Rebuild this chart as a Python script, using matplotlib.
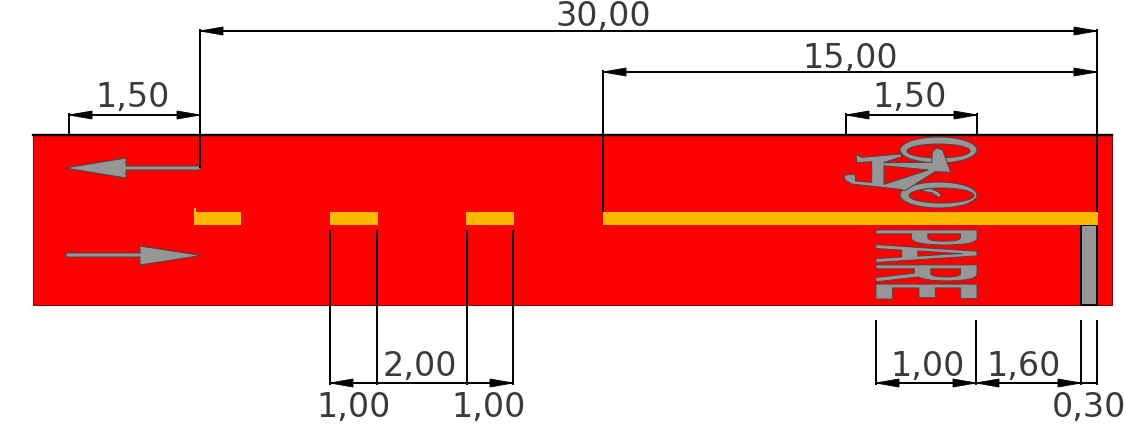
import matplotlib
matplotlib.use("Agg")
import matplotlib.pyplot as plt
from matplotlib.patches import Rectangle, Polygon, Ellipse, PathPatch
from matplotlib.path import Path
from matplotlib.text import Text, TextPath
from matplotlib.font_manager import FontProperties
from matplotlib.transforms import Affine2D, Bbox

RED, YEL, GRY, DRK = "#FF0000", "#FFB900", "#969696", "#444444"

# Road layout (drawing units)
road = (33, 135, 1112, 305)
dashes = [(194, 241), (330, 378), (466, 514), (603, 1098)]
stop_bar = (1081, 225, 1097, 305)
# horizontal dimensions: x0, x1, y, left head, right head
dims = [
    (200, 1097, 31, True, True),
    (603, 1097, 72, True, True),
    (846, 977, 115, True, True),
    (69, 200, 115, True, True),
    (330, 377, 383, True, False),
    (377, 467, 383, False, False),
    (467, 513, 383, False, True),
    (876, 976, 383, True, True),
    (976, 1081, 383, True, True),
    (1081, 1097, 383, False, False),
]
ext_lines = [
    (200, 29, 168), (1097, 29, 212), (603, 70, 212),
    (846, 113, 135), (977, 113, 135), (69, 113, 135),
    (330, 230, 385), (377, 230, 385), (467, 230, 385), (513, 230, 385),
    (876, 320, 385), (976, 320, 385), (1081, 320, 385), (1097, 320, 385),
]
labels = [
    ("30,00", 603, 26), ("15,00", 850, 68), ("1,50", 910, 107), ("1,50", 133, 107),
    ("2,00", 420, 376), ("1,00", 354, 417), ("1,00", 489, 417),
    ("1,00", 928, 376), ("1,60", 1024, 376), ("0,30", 1089, 417),
]
arrow_up = [(65, 168), (126, 158), (126, 166), (200, 166), (200, 170), (126, 170), (126, 178)]
arrow_dn = [(66, 253), (140, 253), (140, 246), (201, 255.5), (140, 265), (140, 257), (66, 257)]
# bicycle symbol: wheels as (cx, cy, width, height) outer then inner
wheels_outer = [(938.5, 150, 77, 26), (938.5, 195, 77, 26)]
wheels_inner = [(938.5, 151, 63, 14), (941.5, 195.5, 65, 15)]
frame = [(856, 154.3), (861.7, 157.3), (900.7, 154), (902, 156.7), (883.3, 162.7), (931.7, 162.3),
         (932.3, 151.7), (936.7, 148), (942.7, 150), (950.7, 172.3), (935, 171.7), (905, 190.7),
         (900, 189.3), (851.7, 184), (845, 180), (844, 175.3), (855, 174), (855.7, 181),
         (871.7, 182.3), (871.7, 161.7), (856.7, 162.7)]
frame_hole = [(884, 165.7), (928.3, 170), (884, 184.3)]
crank = [(921.7, 190), (930, 188.3), (938.3, 191.7), (941.7, 196), (938.3, 197.3),
         (931.7, 192.7), (923.3, 191.3)]
pare_box = (876, 230, 977, 299)


class StretchedText(Text):
    """Real text object fitted to a box, as road paint is drawn elongated."""

    def __init__(self, box, **kw):
        x0, y0, x1, y1 = box
        super().__init__((x0 + x1) / 2, (y0 + y1) / 2, ha="center", va="center",
                         rotation=-90, fontsize=8, **kw)
        self.box = box

    def _path(self):
        tp = TextPath((0, 0), self.get_text(), size=100,
                      prop=FontProperties(family="Liberation Sans", weight="bold"))
        e = tp.get_extents()
        x0, y0, x1, y1 = self.box
        unit = Affine2D().translate(-e.x0, -e.y0).scale(1 / e.width, 1 / e.height)
        # baseline runs downwards in the picture, glyph tops toward +x
        m = Affine2D.from_values(0, y1 - y0, x1 - x0, 0, x0, y0)
        return Path(m.transform(unit.transform(tp.vertices)), tp.codes)

    def get_window_extent(self, renderer=None, dpi=None):
        x0, y0, x1, y1 = self.box
        return Bbox(self.axes.transData.transform([(x0, y1), (x1, y0)]))

    def draw(self, renderer):
        p = PathPatch(self._path(), fc=GRY, ec=DRK, lw=0.6, transform=self.axes.transData)
        p.set_figure(self.figure)
        p.draw(renderer)


fig = plt.figure(figsize=(11.25, 4.29), dpi=100)
ax = fig.add_axes([0, 0, 1, 1])
ax.set_xlim(0, 1125)
ax.set_ylim(429, 0)
ax.axis("off")

x0, y0, x1, y1 = road
ax.add_patch(Rectangle((x0, y0), x1 - x0, y1 - y0, fc=RED, ec="#7a1010", lw=0.8, zorder=1))
ax.plot([x0, x1], [y0, y0], color="black", lw=1.7, zorder=2)

for a, b in dashes:
    ax.add_patch(Rectangle((a, 212), b - a, 13, fc=YEL, ec="none", zorder=3))
ax.add_patch(Rectangle((194, 208), 1.5, 4, fc=YEL, ec="none", zorder=3))
a, b, c, d = stop_bar
ax.add_patch(Rectangle((a, b), c - a, d - b, fc=GRY, ec="black", lw=1.3, zorder=2))

for pts in (arrow_up, arrow_dn):
    ax.add_patch(Polygon(pts, closed=True, fc=GRY, ec=DRK, lw=0.7, zorder=3))

for cx, cy, w, h in wheels_outer:
    ax.add_patch(Ellipse((cx, cy), w, h, fc=GRY, ec=DRK, lw=0.7, zorder=3))
for cx, cy, w, h in wheels_inner:
    ax.add_patch(Ellipse((cx, cy), w, h, fc=RED, ec=DRK, lw=0.7, zorder=3))
for pts in (frame, crank):
    ax.add_patch(Polygon(pts, closed=True, fc=GRY, ec=DRK, lw=0.7, zorder=4))
ax.add_patch(Polygon(frame_hole, closed=True, fc=RED, ec=DRK, lw=0.7, zorder=4))

ax.add_artist(StretchedText(pare_box, text="PARE", zorder=4))

LINE = dict(color="black", lw=1.4, zorder=5, solid_capstyle="butt")
for x, a, b in ext_lines:
    ax.plot([x, x], [a, b], **LINE)


def head(x, y, direction):
    ax.add_patch(Polygon([(x, y), (x + direction * 23, y - 4), (x + direction * 23, y + 4)],
                         closed=True, fc="black", ec="black", lw=0.6, zorder=6))


for a, b, y, left, right in dims:
    ax.plot([a, b], [y, y], **LINE)
    if left:
        head(a, y, 1)
    if right:
        head(b, y, -1)

for s, x, y in labels:
    ax.text(x, y, s, ha="center", va="baseline", family="DejaVu Sans", fontsize=24,
            color="#3a3a3a", zorder=7)

fig.savefig("out.png", dpi=100)
